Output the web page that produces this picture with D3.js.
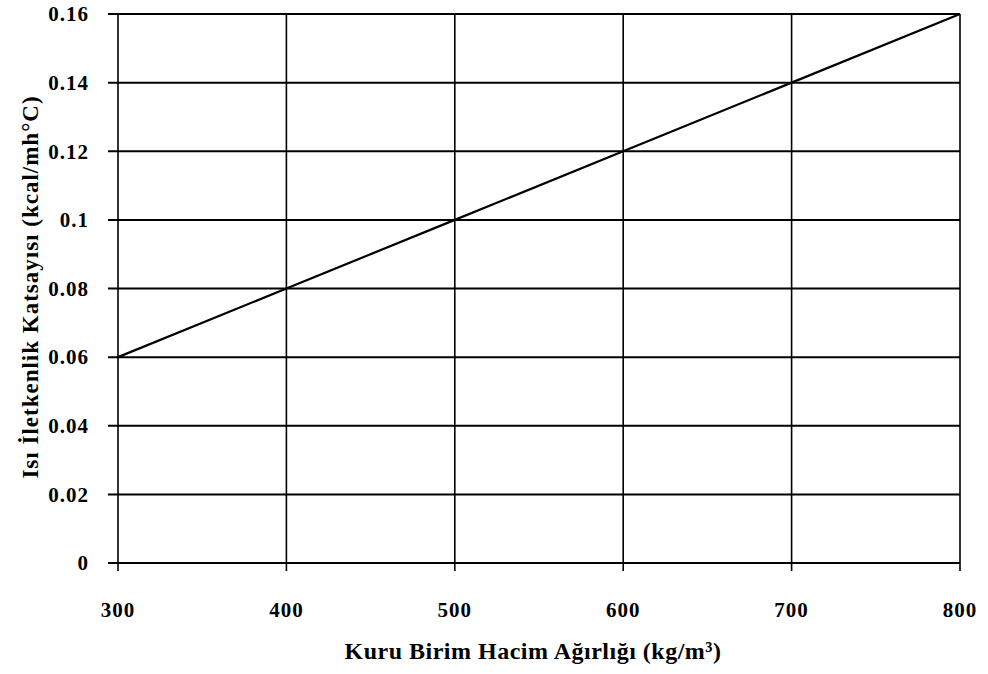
<!DOCTYPE html>
<html>
<head>
<meta charset="utf-8">
<script src="https://cdn.jsdelivr.net/npm/d3@7"></script>
<style>
  body { margin: 0; background: #fff; }
</style>
</head>
<body>
<svg width="988" height="674"></svg>
<script>
var density = [300, 400, 500, 600, 700, 800];
var conductivity = [0.06, 0.08, 0.10, 0.12, 0.14, 0.16];
var xTicks = [300, 400, 500, 600, 700, 800];
var yTicks = [0, 0.02, 0.04, 0.06, 0.08, 0.1, 0.12, 0.14, 0.16];
var xTitle = "Kuru Birim Hacim Ağırlığı (kg/m³)";
var yTitle = "Isı İletkenlik Katsayısı (kcal/mh°C)";

var serif = "'Liberation Serif', 'Times New Roman', 'DejaVu Serif', serif";

var svg = d3.select("svg"),
    margin = {top: 14, right: 28, bottom: 111, left: 118},
    width = 988 - margin.left - margin.right,
    height = 674 - margin.top - margin.bottom,
    g = svg.append("g").attr("transform", "translate(" + margin.left + "," + margin.top + ")");

var x = d3.scaleLinear().domain([300, 800]).range([0, width]);
var y = d3.scaleLinear().domain([0, 0.16]).range([height, 0]);

// horizontal grid
g.append("g")
  .selectAll("line")
  .data(yTicks)
  .enter().append("line")
    .attr("x1", -10).attr("x2", width)
    .attr("y1", function(d) { return y(d); })
    .attr("y2", function(d) { return y(d); })
    .attr("stroke", "#000")
    .attr("stroke-width", 2);

// vertical grid
g.append("g")
  .selectAll("line")
  .data(xTicks)
  .enter().append("line")
    .attr("x1", function(d) { return x(d); })
    .attr("x2", function(d) { return x(d); })
    .attr("y1", 0).attr("y2", height + 8)
    .attr("stroke", "#000")
    .attr("stroke-width", 1.6);

// y tick labels
g.append("g")
  .selectAll("text")
  .data(yTicks)
  .enter().append("text")
    .attr("x", -29)
    .attr("y", function(d) { return y(d); })
    .attr("dy", "0.35em")
    .attr("text-anchor", "end")
    .attr("font-family", serif)
    .attr("font-weight", "bold")
    .attr("font-size", 21)
    .attr("letter-spacing", 1)
    .text(function(d) { return String(d); });

// x tick labels
g.append("g")
  .selectAll("text")
  .data(xTicks)
  .enter().append("text")
    .attr("x", function(d) { return x(d); })
    .attr("y", height + 47)
    .attr("dy", "0.35em")
    .attr("text-anchor", "middle")
    .attr("font-family", serif)
    .attr("font-weight", "bold")
    .attr("font-size", 21)
    .attr("letter-spacing", 1)
    .text(function(d) { return d; });

// series line
var line = d3.line()
  .x(function(d) { return x(d[0]); })
  .y(function(d) { return y(d[1]); });

g.append("path")
  .datum(d3.zip(density, conductivity))
  .attr("fill", "none")
  .attr("stroke", "#000")
  .attr("stroke-width", 2.2)
  .attr("d", line);

// axis titles
svg.append("text")
  .attr("x", margin.left + width / 2 - 6)
  .attr("y", 659)
  .attr("text-anchor", "middle")
  .attr("font-family", serif)
  .attr("font-weight", "bold")
  .attr("font-size", 24)
  .attr("letter-spacing", 0.5)
  .text(xTitle);

svg.append("text")
  .attr("transform", "translate(38," + 287 + ") rotate(-90)")
  .attr("text-anchor", "middle")
  .attr("font-family", serif)
  .attr("font-weight", "bold")
  .attr("font-size", 23)
  .attr("letter-spacing", 1)
  .text(yTitle);
</script>
</body>
</html>
